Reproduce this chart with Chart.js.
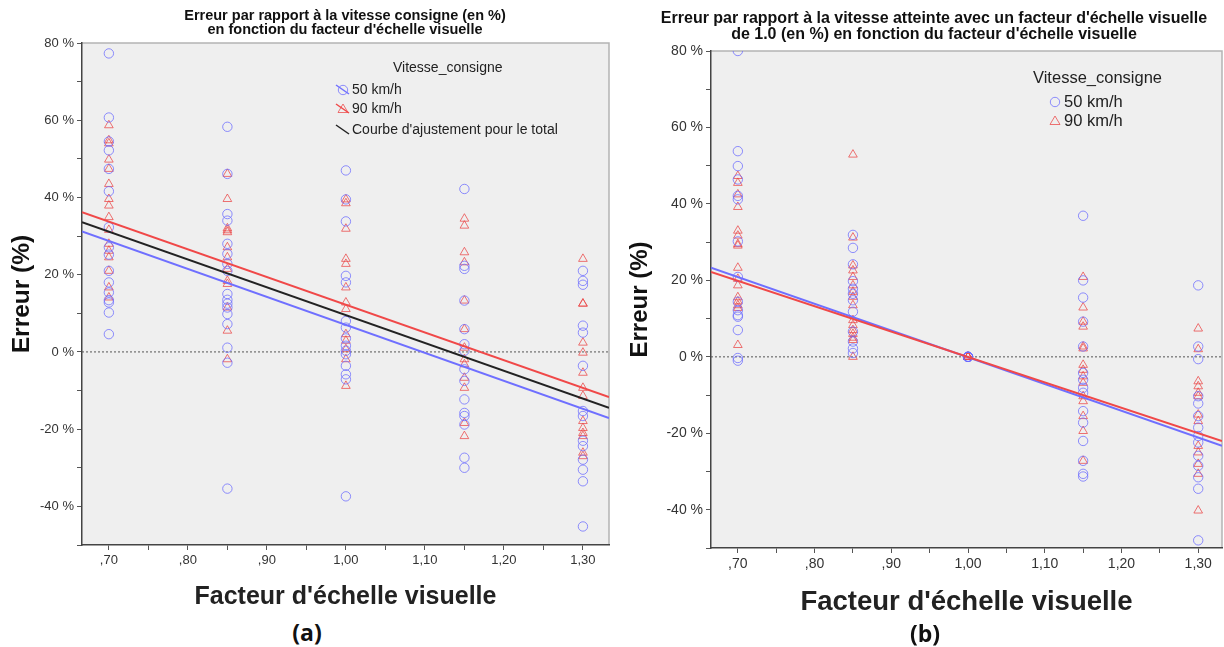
<!DOCTYPE html>
<html lang="fr">
<head>
<meta charset="utf-8">
<title>Erreur en fonction du facteur d'échelle visuelle</title>
<script src="https://cdn.jsdelivr.net/npm/chart.js@4.4.1/dist/chart.umd.min.js"></script>
<style>
  html, body { margin: 0; padding: 0; background: #fff; overflow: hidden; }
  body { width: 1224px; height: 647px; position: relative; }
  .panel { position: absolute; top: 0; }
  .tag { position: absolute; font: bold 23px "Open Sans", sans-serif; color: #111; transform: translate(-50%, -50%); }
</style>
</head>
<body>
<div class="panel" style="left:0;width:690px;height:615px"><canvas id="chartA"></canvas></div>
<div class="panel" style="left:626px;width:616px;height:620px"><canvas id="chartB"></canvas></div>
<div class="tag" style="left:307px;top:632px">(a)</div>
<div class="tag" style="left:925px;top:633px">(b)</div>
<script>
// facteur d'échelle visuelle, same levels in both panels
const factors = [0.70, 0.85, 1.00, 1.15, 1.30];

// (a) erreur par rapport à la vitesse consigne (%), one list per factor
const a50 = [
    [77.3, 60.7, 54.5, 52.2, 47.4, 41.6, 32.3, 27.1, 25.2, 21, 18, 15.4, 13.4, 12.8, 10.2, 4.6],
    [58.3, 46.1, 35.7, 34, 28, 25.4, 22.8, 21, 15, 13.5, 12.5, 11.5, 9.8, 7.2, 1.1, -2.8, -35.4],
    [47, 39.5, 33.8, 19.7, 18, 8, 6.3, 3.5, 1.6, 0.3, -0.6, -3.6, -5.8, -7.1, -37.4],
    [42.2, 22.3, 21.5, 13.3, 5.9, 2, 0.3, -4.5, -7.5, -12.3, -15.8, -16.6, -18.8, -27.4, -30],
    [21, 18.4, 17.4, 6.8, 5, -3.6, -15.3, -16.6, -23, -24.4, -27.9, -30.5, -33.5, -45.2]
];
const a90 = [
    [58.7, 54.8, 54, 49.8, 47.4, 43.5, 39.6, 37.9, 34.9, 31.6, 28, 26.2, 24.5, 21, 16.7, 14.1],
    [46.1, 39.6, 32, 31.5, 31, 27.1, 24.5, 21.5, 18.4, 17.6, 11.5, 5.5, -1.9],
    [39.5, 38.5, 31.9, 24.1, 22.8, 16.7, 12.8, 11.1, 4.6, 2.9, 0.7, -1.9, -8.8],
    [34.5, 32.7, 25.8, 23.2, 13.3, 5.9, 1.1, -1.9, -3.2, -6.7, -9.3, -18.4, -21.8],
    [24.1, 12.5, 12.5, 2.4, -0.2, -5.4, -9.3, -11.4, -17.9, -19.7, -21, -21.8, -26.1, -27]
];

// (b) erreur par rapport à la vitesse atteinte avec un facteur de 1.0 (%)
const b50 = [
    [80, 53.8, 49.9, 46.4, 42.1, 41.2, 30.2, 20.9, 14.4, 12.2, 10.9, 10.5, 7, -0.3, -1],
    [31.9, 28.5, 24.2, 19.8, 17.8, 16.5, 14.8, 11.8, 6.6, 4, 2.2, 1],
    [0, 0, 0, 0, 0],
    [36.9, 20, 15.5, 9.2, 2.7, -4.2, -6, -8.1, -9.4, -14.2, -17.2, -22, -27.2, -30.6, -31.3],
    [18.7, 2.7, -0.6, -10.3, -12.2, -15.5, -18.5, -20.7, -22.4, -25.9, -28.5, -31.5, -34.5, -48]
];
const b90 = [
    [47.3, 45.5, 42.5, 39.2, 33, 31.7, 29.5, 29.1, 23.3, 20.4, 18.7, 15.6, 14.5, 13.5, 12.8, 3.1],
    [52.9, 31.2, 23.9, 22.6, 20.9, 18.7, 17, 15.7, 13.5, 9.6, 8.3, 7, 6, 5, 4.4, 0],
    [0, 0, 0, 0, 0],
    [20.9, 12.9, 9.2, 7.9, 2.7, 2.2, -2.1, -3.4, -5.1, -6.8, -10.3, -11.6, -15.5, -19.4, -27.2],
    [7.4, 2, -6.4, -7.7, -9.4, -10.3, -15.1, -16.8, -23.3, -25, -28, -30.6, -40.2]
];

// fit lines: value at the left and right end of the x range
const aRange = [0.666, 1.333];
const aFit50 = [31.2, -17.1];
const aFit90 = [36.2, -11.7];
const aFitTotal = [33.6, -14.5];
const bRange = [0.665, 1.331];
const bFit50 = [23.3, -23.3];
const bFit90 = [22.2, -22.0];

const yRange = [-50, 80];
const yTicks = [-40, -20, 0, 20, 40, 60, 80];
const yTickLabels = ['-40 %', '-20 %', '0 %', '20 %', '40 %', '60 %', '80 %'];
const xTicks = [0.70, 0.80, 0.90, 1.00, 1.10, 1.20, 1.30];
const xTickLabels = [',70', ',80', ',90', '1,00', '1,10', '1,20', '1,30'];

const BLUE = 'rgba(105, 105, 255, 0.75)';
const RED = 'rgba(235, 70, 70, 0.75)';
const BLUE_LINE = '#6f6fff';
const RED_LINE = '#f04848';

Chart.defaults.font.family = '"Liberation Sans", Arial, sans-serif';

function toPoints(groups) {
    return factors.flatMap((x, i) => groups[i].map(y => ({ x, y })));
}

function fitLine(range, fit) {
    return range.map((x, i) => ({ x, y: fit[i] }));
}

function labelFor(v, vals, labels) {
    const i = vals.findIndex(t => Math.abs(t - v) < 1e-6);
    return i >= 0 ? labels[i] : '';
}

function lineSet(data, color, dash) {
    return { data, showLine: true, pointRadius: 0, borderColor: color, borderWidth: dash ? 1 : 2,
             borderDash: dash || [], order: dash ? 2 : 0 };
}

function pointSet(data, style) {
    const circle = style === 'circle';
    return { data, pointStyle: style, pointRadius: circle ? 4.7 : 5, borderWidth: 1,
             borderColor: circle ? BLUE : RED, backgroundColor: 'transparent', order: 1 };
}

// grey plot background + light top/right frame
const plotFrame = {
    id: 'plotFrame',
    beforeDraw(chart) {
        const { ctx, chartArea: a } = chart;
        ctx.save();
        ctx.fillStyle = '#efefef';
        ctx.fillRect(a.left, a.top, a.width, a.height);
        ctx.strokeStyle = '#b4b4b4';
        ctx.lineWidth = 1.5;
        ctx.beginPath();
        ctx.moveTo(a.left, a.top);
        ctx.lineTo(a.right, a.top);
        ctx.lineTo(a.right, a.bottom);
        ctx.stroke();
        ctx.restore();
    }
};

// legend drawn inside the plot, like the SPSS output
function legendPlugin(spec) {
    return {
        id: 'panelLegend',
        afterDraw(chart) {
            const { ctx, chartArea: a } = chart;
            ctx.save();
            ctx.font = spec.size + 'px "Liberation Sans", Arial, sans-serif';
            ctx.fillStyle = '#222';
            ctx.textBaseline = 'middle';
            ctx.fillText('Vitesse_consigne', a.left + spec.head[0], a.top + spec.head[1]);
            spec.items.forEach(it => {
                const mx = a.left + spec.markX, my = a.top + it.dy;
                ctx.lineWidth = 1;
                if (it.kind === 'circle') {
                    ctx.strokeStyle = BLUE;
                    ctx.beginPath();
                    ctx.arc(mx, my, 4.7, 0, Math.PI * 2);
                    ctx.stroke();
                } else if (it.kind === 'triangle') {
                    ctx.strokeStyle = RED;
                    ctx.beginPath();
                    ctx.moveTo(mx, my - 5);
                    ctx.lineTo(mx + 5, my + 3.5);
                    ctx.lineTo(mx - 5, my + 3.5);
                    ctx.closePath();
                    ctx.stroke();
                }
                if (it.slash) {
                    ctx.strokeStyle = it.slash;
                    ctx.lineWidth = 1.5;
                    ctx.beginPath();
                    ctx.moveTo(mx - 7, my - 5);
                    ctx.lineTo(mx + 6, my + 4);
                    ctx.stroke();
                }
                ctx.fillStyle = '#222';
                ctx.fillText(it.text, a.left + spec.textX, my);
            });
            ctx.restore();
        }
    };
}

function makePanel(id, cfg) {
    const yMinor = [];
    for (let v = yRange[0]; v <= yRange[1]; v += 10) yMinor.push(v);
    const xMinor = [];
    for (let v = 70; v <= 130; v += 5) xMinor.push(v / 100);

    return new Chart(document.getElementById(id), {
        type: 'scatter',
        data: { datasets: cfg.datasets },
        options: {
            responsive: true,
            maintainAspectRatio: false,
            animation: false,
            layout: { padding: 0 },
            plugins: {
                legend: { display: false },
                tooltip: { enabled: false },
                title: {
                    display: true,
                    text: cfg.title,
                    color: '#111',
                    font: { size: cfg.titleSize, weight: 'bold', lineHeight: cfg.titleLine },
                    padding: cfg.titlePad
                }
            },
            scales: {
                x: {
                    type: 'linear',
                    min: cfg.range[0],
                    max: cfg.range[1],
                    afterBuildTicks: s => { s.ticks = xMinor.map(value => ({ value })); },
                    ticks: { autoSkip: false, maxRotation: 0, padding: 3, color: '#333',
                             font: { size: cfg.tickSize },
                             callback: v => labelFor(v, xTicks, xTickLabels) },
                    grid: { drawOnChartArea: false, tickLength: 5, color: '#555' },
                    border: { color: '#444', width: 1.5 },
                    title: { display: true, text: "Facteur d'échelle visuelle", color: '#222',
                             font: { size: cfg.xTitleSize, weight: 'bold', lineHeight: 1.2 },
                             padding: { top: 0, bottom: cfg.xTitlePad } },
                    afterFit: s => { s.height = cfg.xAxisHeight; }
                },
                y: {
                    type: 'linear',
                    min: yRange[0],
                    max: yRange[1],
                    afterBuildTicks: s => { s.ticks = yMinor.map(value => ({ value })); },
                    ticks: { autoSkip: false, padding: 3, color: '#333',
                             font: { size: cfg.tickSize },
                             callback: v => labelFor(v, yTicks, yTickLabels) },
                    grid: { drawOnChartArea: false, tickLength: 5, color: '#555' },
                    border: { color: '#444', width: 1.5 },
                    title: { display: true, text: 'Erreur (%)', color: '#111',
                             font: { size: cfg.yTitleSize, weight: 'bold', lineHeight: 1.2 },
                             padding: { top: cfg.yTitlePad, bottom: 0 } },
                    afterFit: s => { s.width = cfg.yAxisWidth; }
                },
                // empty right column so the plot stops where the picture does
                gap: {
                    position: 'right',
                    display: true,
                    ticks: { display: false },
                    grid: { display: false },
                    border: { display: false },
                    afterFit: s => { s.width = cfg.rightGap; }
                }
            }
        },
        plugins: [plotFrame, legendPlugin(cfg.legend)]
    });
}

makePanel('chartA', {
    title: ['Erreur par rapport à la vitesse consigne (en %)', "en fonction du facteur d'échelle visuelle"],
    titleSize: 14.5,
    titleLine: 1.0,
    titlePad: { top: 8.5, bottom: 5.5 },
    range: aRange,
    tickSize: 13,
    xTitleSize: 25,
    yTitleSize: 24.5,
    xTitlePad: 3,
    xAxisHeight: 70,
    yTitlePad: 8,
    yAxisWidth: 82,
    rightGap: 81,
    datasets: [
        lineSet(fitLine(aRange, aFit90), RED_LINE),
        lineSet(fitLine(aRange, aFitTotal), '#222'),
        lineSet(fitLine(aRange, aFit50), BLUE_LINE),
        lineSet(fitLine(aRange, [0, 0]), '#555', [2, 2]),
        pointSet(toPoints(a50), 'circle'),
        pointSet(toPoints(a90), 'triangle')
    ],
    legend: {
        size: 14, head: [311, 25], markX: 261, textX: 270,
        items: [
            { kind: 'circle', slash: BLUE_LINE, dy: 47, text: '50 km/h' },
            { kind: 'triangle', slash: RED_LINE, dy: 66, text: '90 km/h' },
            { kind: 'none', slash: '#222', dy: 87, text: "Courbe d'ajustement pour le total" }
        ]
    }
});

makePanel('chartB', {
    title: ["Erreur par rapport à la vitesse atteinte avec un facteur d'échelle visuelle",
            "de 1.0 (en %) en fonction du facteur d'échelle visuelle"],
    titleSize: 16,
    titleLine: 1.0,
    titlePad: { top: 11, bottom: 8 },
    range: bRange,
    tickSize: 14,
    xTitleSize: 27.5,
    yTitleSize: 24,
    xTitlePad: 1.5,
    xAxisHeight: 72,
    yTitlePad: 0,
    yAxisWidth: 85,
    rightGap: 20,
    datasets: [
        lineSet(fitLine(bRange, bFit90), RED_LINE),
        lineSet(fitLine(bRange, bFit50), BLUE_LINE),
        lineSet(fitLine(bRange, [0, 0]), '#555', [2, 2]),
        pointSet(toPoints(b50), 'circle'),
        pointSet(toPoints(b90), 'triangle')
    ],
    legend: {
        size: 16.5, head: [322, 27], markX: 344, textX: 353,
        items: [
            { kind: 'circle', dy: 51, text: '50 km/h' },
            { kind: 'triangle', dy: 70, text: '90 km/h' }
        ]
    }
});
</script>
</body>
</html>
